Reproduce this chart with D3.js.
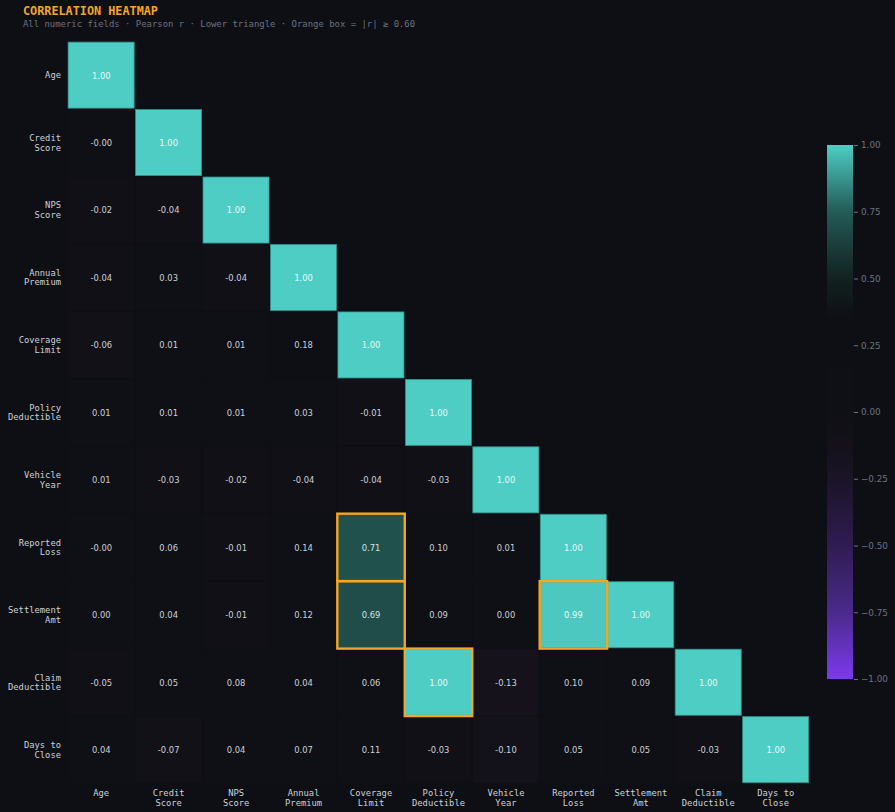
<!DOCTYPE html>
<html><head><meta charset="utf-8">
<script src="https://cdn.jsdelivr.net/npm/d3@7"></script>
<style>
html,body{margin:0;padding:0;background:#0e0f14;}
svg{display:block;}
</style></head>
<body>
<svg id="chart" width="895" height="812"></svg>
<script>
const fields = ["Age","Credit Score","NPS Score","Annual Premium","Coverage Limit","Policy Deductible","Vehicle Year","Reported Loss","Settlement Amt","Claim Deductible","Days to Close"];
const fieldLines = [["Age"],["Credit","Score"],["NPS","Score"],["Annual","Premium"],["Coverage","Limit"],["Policy","Deductible"],["Vehicle","Year"],["Reported","Loss"],["Settlement","Amt"],["Claim","Deductible"],["Days to","Close"]];
// lower triangle rows (row i has i+1 values)
const corrRows = [
  [1.00],
  [-0.001, 1.00],
  [-0.02, -0.04, 1.00],
  [-0.04, 0.03, -0.04, 1.00],
  [-0.06, 0.01, 0.01, 0.18, 1.00],
  [0.01, 0.01, 0.01, 0.03, -0.01, 1.00],
  [0.01, -0.03, -0.02, -0.04, -0.04, -0.03, 1.00],
  [-0.001, 0.06, -0.01, 0.14, 0.71, 0.10, 0.01, 1.00],
  [0.00, 0.04, -0.01, 0.12, 0.69, 0.09, 0.00, 0.99, 1.00],
  [-0.05, 0.05, 0.08, 0.04, 0.06, 1.00, -0.13, 0.10, 0.09, 1.00],
  [0.04, -0.07, 0.04, 0.07, 0.11, -0.03, -0.10, 0.05, 0.05, -0.03, 1.00]
];
const colorbarTicks = [1, 0.75, 0.5, 0.25, 0, -0.25, -0.5, -0.75, -1];
const highlightThreshold = 0.60;
const titleText = "CORRELATION HEATMAP";
const subtitleText = "All numeric fields · Pearson r · Lower triangle · Orange box = |r| ≥ 0.60";

const colorStops = [-1,-0.75,-0.5,-0.25,-0.1,-0.02,0.0,0.35,0.5,0.75,1];
const colorRange = ["#7c3aed","#4a2a8c","#2f1c52","#1b1427","#131119","#101016","#0f1015","#0e0f14","#122220","#245a56","#4ecdc4"];
const color = d3.scaleLinear().domain(colorStops).range(colorRange).clamp(true);

const cells = [];
corrRows.forEach((row,i)=>row.forEach((v,j)=>cells.push({i,j,v})));

const svg = d3.select("#chart");
const BG = "#0e0f14";
svg.append("rect").attr("width",895).attr("height",812).attr("fill",BG);

svg.append("text").attr("x",23).attr("y",14.5)
  .attr("font-family","DejaVu Sans Mono").attr("font-weight","bold").attr("font-size",11.8)
  .attr("fill","#f5a623").text(titleText);
svg.append("text").attr("x",23).attr("y",27)
  .attr("font-family","DejaVu Sans Mono").attr("font-size",8.93)
  .attr("fill","#6b7280").text(subtitleText);

const x = d3.scaleBand().domain(d3.range(fields.length)).range([67.5, 809.5]);
const y = d3.scaleBand().domain(d3.range(fields.length)).range([41.5, 783.5]);
const bw = x.bandwidth(), bh = y.bandwidth();

const g = svg.append("g");
g.selectAll("rect.cell").data(cells).join("rect").attr("class","cell")
  .attr("x",d=>x(d.j)+0.6).attr("y",d=>y(d.i)+0.6)
  .attr("width",bw-1.4).attr("height",bh-1.4)
  .attr("fill",d=>color(d.v))
  .attr("stroke",d=>d.v>0.9?"#2f8f89":"none").attr("stroke-width",d=>d.v>0.9?0.8:0);

g.selectAll("text.val").data(cells).join("text").attr("class","val")
  .attr("x",d=>x(d.j)+bw/2).attr("y",d=>y(d.i)+bh/2+3.3)
  .attr("text-anchor","middle")
  .attr("font-family","DejaVu Sans").attr("font-size",8.4)
  .attr("fill",d=>d.v>0.9?"#e6fbf9":(d.v>0.6?"#d4e4e2":"#cdd1d8"))
  .text(d=>d.v.toFixed(2));

// orange boxes
g.selectAll("rect.hl").data(cells.filter(d=>d.i!==d.j && Math.abs(d.v)>=highlightThreshold)).join("rect").attr("class","hl")
  .attr("x",d=>x(d.j)).attr("y",d=>y(d.i))
  .attr("width",bw).attr("height",bh)
  .attr("fill","none").attr("stroke","#f5a623").attr("stroke-width",2.4);

// y labels
const yl = svg.append("g");
fieldLines.forEach((lines,i)=>{
  const t = yl.append("text").attr("text-anchor","end")
    .attr("font-family","DejaVu Sans Mono").attr("font-size",8.8).attr("fill","#cdd1d8");
  const cy = y(i)+bh/2;
  const start = cy - (lines.length-1)*9.6/2 + 3.1;
  lines.forEach((l,k)=>t.append("tspan").attr("x",61).attr("y",start+k*9.6).text(l));
});
// x labels
const xl = svg.append("g");
fieldLines.forEach((lines,j)=>{
  const t = xl.append("text").attr("text-anchor","middle")
    .attr("font-family","DejaVu Sans Mono").attr("font-size",8.8).attr("fill","#cdd1d8");
  lines.forEach((l,k)=>t.append("tspan").attr("x",x(j)+bw/2).attr("y",796+k*9.6).text(l));
});

// colorbar
const cbY = d3.scaleLinear().domain([-1,1]).range([679,145]);
const defs = svg.append("defs");
const grad = defs.append("linearGradient").attr("id","cbg").attr("x1",0).attr("y1",1).attr("x2",0).attr("y2",0);
d3.range(0,1.0001,0.02).forEach(t=>{
  grad.append("stop").attr("offset",t).attr("stop-color",color(-1+2*t));
});
svg.append("rect").attr("x",827).attr("y",cbY(1)).attr("width",26).attr("height",cbY(-1)-cbY(1))
  .attr("fill","url(#cbg)");
const axis = d3.axisRight(cbY).tickValues(colorbarTicks).tickFormat(d3.format(".2f")).tickSize(4).tickPadding(3);
const ag = svg.append("g").attr("transform","translate(854,0)").call(axis);
ag.select(".domain").remove();
ag.selectAll(".tick line").attr("stroke","#6b7280");
ag.selectAll(".tick text").attr("fill","#6b7280").attr("font-family","DejaVu Sans").attr("font-size",8.8);
</script>
</body></html>
